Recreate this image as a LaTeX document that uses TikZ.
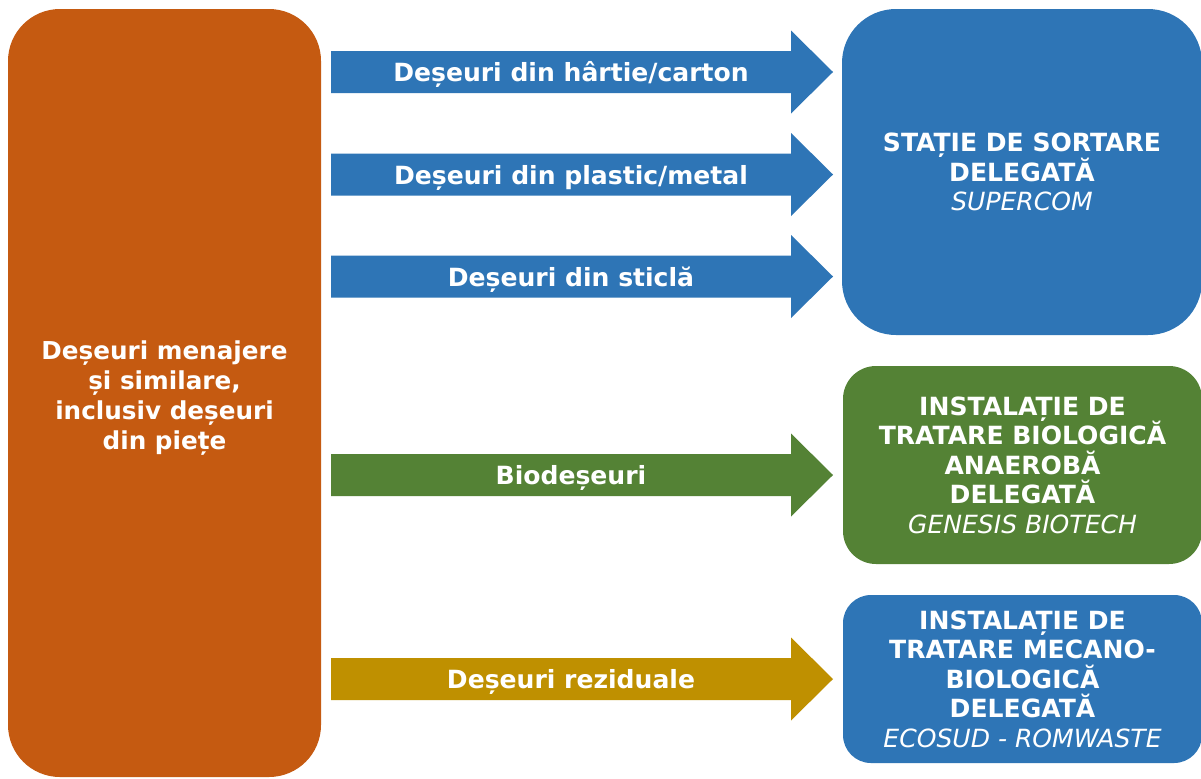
\documentclass[tikz,border=0pt]{standalone}
\usepackage{fontspec}
\setmainfont{DejaVu Sans}
\definecolor{cOrange}{HTML}{C55A11}
\definecolor{cBlue}{HTML}{2E75B6}
\definecolor{cGreen}{HTML}{548235}
\definecolor{cGold}{HTML}{BF9000}
\newcommand{\firmfont}{\mdseries\itshape}
\newcommand{\blockarrow}[4]{%
  \fill[#3] (331,#2-21) -- (791,#2-21) -- (791,#2-41.5) -- (833,#2) -- (791,#2+41.5) -- (791,#2+21) -- (331,#2+21) -- cycle;
  \node[arrowtext] (#1) at (571,#2+9.5) {#4};}
\begin{document}
\begin{tikzpicture}[x=0.75pt,y=-0.75pt,
  boxtext/.style={text=white, align=center, inner sep=0pt, font=\fontsize{18.8}{22.1}\selectfont\bfseries},
  arrowtext/.style={text=white, anchor=base, inner sep=0pt, font=\fontsize{18.8}{22.1}\selectfont\bfseries}]
\useasboundingbox (0,0) rectangle (1201,778);
\fill[white] (0,0) rectangle (1201,778);
% source box
\node[fill=cOrange, rounded corners=39pt, minimum width=234.75pt, minimum height=576pt, inner sep=0pt] (src) at (164.5,393) {};
\node[boxtext, font=\fontsize{18.5}{22.5}\selectfont\bfseries] (srclabel) at (164.5,398)
  {Deșeuri menajere\\și similare,\\inclusiv deșeuri\\din piețe};
% destination boxes
\node[boxtext, fill=cBlue, rounded corners=40.5pt, minimum width=270pt, minimum height=244.5pt] (sort) at (1022,172)
  {STAȚIE DE SORTARE\\DELEGATĂ\\{\firmfont SUPERCOM}};
\node[boxtext, fill=cGreen, rounded corners=24.75pt, minimum width=269.25pt, minimum height=148.5pt] (bio) at (1022.5,465)
  {INSTALAȚIE DE\\TRATARE BIOLOGICĂ\\ANAEROBĂ\\DELEGATĂ\\{\firmfont GENESIS BIOTECH}};
\node[boxtext, fill=cBlue, rounded corners=21pt, minimum width=269.25pt, minimum height=126pt] (tmb) at (1022.5,679)
  {INSTALAȚIE DE\\TRATARE MECANO-\\BIOLOGICĂ\\DELEGATĂ\\{\firmfont ECOSUD - ROMWASTE}};
% flows
\blockarrow{a1}{72}{cBlue}{Deșeuri din hârtie/carton}
\blockarrow{a2}{174.5}{cBlue}{Deșeuri din plastic/metal}
\blockarrow{a3}{276.5}{cBlue}{Deșeuri din sticlă}
\blockarrow{a4}{475}{cGreen}{Biodeșeuri}
\blockarrow{a5}{679}{cGold}{Deșeuri reziduale}
\end{tikzpicture}
\end{document}
